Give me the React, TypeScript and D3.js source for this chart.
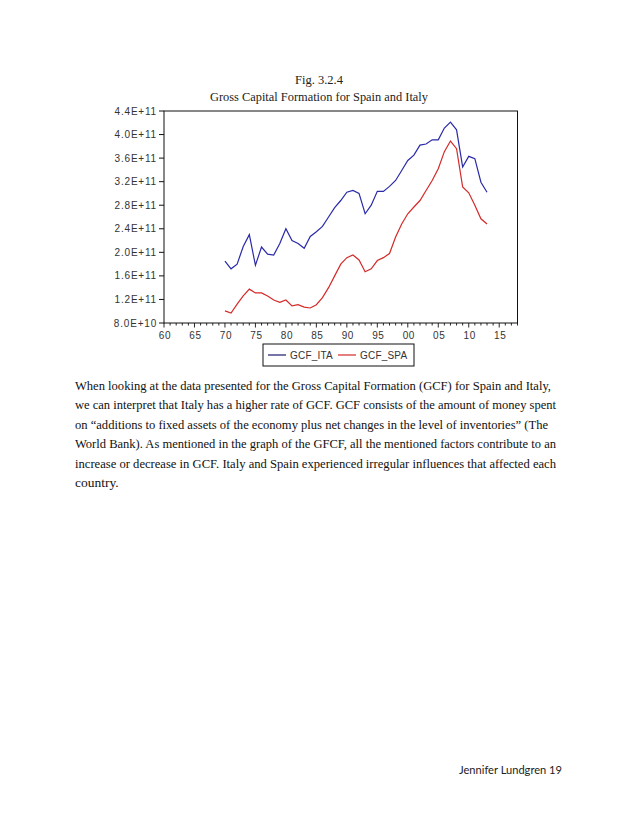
import React from "react";
import * as d3 from "d3";

const years = [1970,1971,1972,1973,1974,1975,1976,1977,1978,1979,1980,1981,1982,1983,1984,1985,1986,1987,1988,1989,1990,1991,1992,1993,1994,1995,1996,1997,1998,1999,2000,2001,2002,2003,2004,2005,2006,2007,2008,2009,2010,2011,2012,2013];
const gcfIta = [1.85,1.72,1.80,2.10,2.30,1.78,2.09,1.97,1.955,2.15,2.40,2.20,2.15,2.07,2.27,2.35,2.44,2.60,2.76,2.88,3.02,3.05,3.00,2.655,2.80,3.035,3.035,3.12,3.22,3.39,3.56,3.65,3.82,3.84,3.91,3.91,4.11,4.21,4.08,3.45,3.63,3.59,3.19,3.02].map(v => v * 1e11);
const gcfSpa = [1.005,0.97,1.12,1.26,1.375,1.31,1.31,1.26,1.19,1.15,1.19,1.09,1.11,1.07,1.055,1.11,1.23,1.40,1.60,1.80,1.91,1.955,1.87,1.67,1.72,1.86,1.91,1.98,2.26,2.48,2.655,2.77,2.88,3.05,3.22,3.42,3.71,3.89,3.76,3.11,3.01,2.80,2.57,2.48].map(v => v * 1e11);

const yTickValues = [0.8e11,1.2e11,1.6e11,2.0e11,2.4e11,2.8e11,3.2e11,3.6e11,4.0e11,4.4e11];
const yTickLabels = ["8.0E+10","1.2E+11","1.6E+11","2.0E+11","2.4E+11","2.8E+11","3.2E+11","3.6E+11","4.0E+11","4.4E+11"];
const xTickYears = [1960,1965,1970,1975,1980,1985,1990,1995,2000,2005,2010,2015];
const xTickLabels = ["60","65","70","75","80","85","90","95","00","05","10","15"];
const seriesNames = ["GCF_ITA","GCF_SPA"];
const figNumber = "Fig. 3.2.4";
const chartTitle = "Gross Capital Formation for Spain and Italy";
const bodyLines = [
  "When looking at the data presented for the Gross Capital Formation (GCF) for Spain and Italy,",
  "we can interpret that Italy has a higher rate of GCF. GCF consists of the amount of money spent",
  "on \u201Cadditions to fixed assets of the economy plus net changes in the level of inventories\u201D (The",
  "World Bank). As mentioned in the graph of the GFCF, all the mentioned factors contribute to an",
  "increase or decrease in GCF. Italy and Spain experienced irregular influences that affected each",
  "country.",
];
const bodyWidths = [476, 481, 473, 481, 481, 0];
const footer = "Jennifer Lundgren 19";

const L = 164, R = 517.5, T = 111, B = 323;

export default function App() {
  const x = d3.scaleLinear().domain([1960, 2018]).range([L, R]);
  const y = d3.scaleLinear().domain([0.8e11, 4.4e11]).range([B, T]);
  const line = d3.line<number>().x((_, i) => x(years[i])).y(d => y(d));
  const minorYears = d3.range(1960, 2019);
  const axisFont = "'Liberation Sans', Arial, sans-serif";
  const serif = "'Liberation Serif', 'Times New Roman', serif";
  const colors = ["#2a2aa8", "#d42a2a"];

  return (
    <svg width={638} height={826} style={{ position: "absolute", left: 0, top: 0, background: "#fff" }}>
      <rect x={0} y={0} width={638} height={826} fill="#fff" />
      <text x={319} y={84} textAnchor="middle" fontFamily={serif} fontSize={12.5} fill="#222">{figNumber}</text>
      <text x={319} y={101} textAnchor="middle" fontFamily={serif} fontSize={12.5} fill="#222" textLength={218} lengthAdjust="spacingAndGlyphs">{chartTitle}</text>

      <rect x={L} y={T} width={R - L} height={B - T} fill="none" stroke="#111" strokeWidth={1} />

      {yTickValues.map((v, i) => (
        <g key={"y" + i}>
          <line x1={L - 5} x2={L} y1={y(v)} y2={y(v)} stroke="#111" />
          <text x={L - 7} y={y(v) + 3.5} textAnchor="end" fontFamily={axisFont} fontSize={10} letterSpacing={0.8} fill="#333">{yTickLabels[i]}</text>
        </g>
      ))}

      {minorYears.map(yr => (
        <line key={"m" + yr} x1={x(yr)} x2={x(yr)} y1={B} y2={B + (yr % 5 === 0 ? 4.5 : 2.5)} stroke="#111" strokeWidth={0.9} />
      ))}
      {xTickYears.map((yr, i) => (
        <text key={"xl" + yr} x={x(yr) + 1} y={339} textAnchor="middle" fontFamily={axisFont} fontSize={10} letterSpacing={0.6} fill="#333">{xTickLabels[i]}</text>
      ))}

      <path d={line(gcfIta) || ""} fill="none" stroke={colors[0]} strokeWidth={1.2} />
      <path d={line(gcfSpa) || ""} fill="none" stroke={colors[1]} strokeWidth={1.2} />

      <rect x={263} y={344} width={151} height={22} fill="#fff" stroke="#111" strokeWidth={1} />
      <line x1={268} x2={286} y1={355} y2={355} stroke="#1a1a70" strokeWidth={1.2} />
      <text x={290} y={358.5} fontFamily={axisFont} fontSize={10} letterSpacing={0.2} fill="#333">{seriesNames[0]}</text>
      <line x1={338} x2={356} y1={355} y2={355} stroke={colors[1]} strokeWidth={1.2} />
      <text x={360} y={358.5} fontFamily={axisFont} fontSize={10} letterSpacing={0.2} fill="#333">{seriesNames[1]}</text>

      {bodyLines.map((t, i) => (
        <text key={"b" + i} x={75} y={390 + i * 19.4} fontFamily={serif} fontSize={13.5} fill="#111"
          {...(bodyWidths[i] ? { textLength: bodyWidths[i], lengthAdjust: "spacingAndGlyphs" } : {})}>{t}</text>
      ))}

      <text x={459} y={774} fontFamily="Lato, 'Open Sans', sans-serif" fontSize={12} fill="#222" textLength={103} lengthAdjust="spacingAndGlyphs">{footer}</text>
    </svg>
  );
}
